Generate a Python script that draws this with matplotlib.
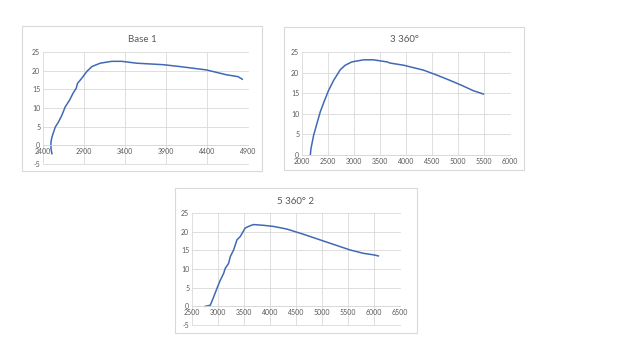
import numpy as np
from matplotlib import pyplot as plt
from matplotlib.patches import Rectangle

plt.rcParams['font.family'] = ['Lato', 'DejaVu Sans']
plt.rcParams['axes.unicode_minus'] = False

# Base 1
base_x = [2509, 2497, 2497, 2509, 2530, 2550, 2590, 2631, 2671, 2724, 2765, 2805, 2821, 2874,
          2935, 2996, 3097, 3239, 3360, 3543, 3867, 4069, 4393, 4637, 4778, 4831]
base_y = [-2.25, -0.9, 0.9, 2.2, 3.6, 4.9, 6.3, 8.1, 10.3, 12.1, 13.9, 15.3, 16.6, 18.0,
          19.8, 21.1, 22.0, 22.5, 22.5, 22.0, 21.6, 21.1, 20.2, 18.9, 18.4, 17.7]

# 3 360°
r3_x = [2160, 2173, 2224, 2288, 2352, 2435, 2512, 2608, 2672, 2736, 2832, 2960, 3184, 3376,
        3632, 3700, 3952, 4144, 4336, 4592, 4848, 5072, 5296, 5488]
r3_y = [0.0, 1.6, 4.8, 7.7, 10.5, 13.3, 15.7, 18.1, 19.4, 20.7, 21.8, 22.6, 23.1, 23.1,
        22.6, 22.3, 21.8, 21.2, 20.6, 19.4, 18.1, 16.9, 15.6, 14.8]

# 5 360° 2
r5_x = [2756, 2852, 2916, 2980, 3044, 3108, 3140, 3204, 3236, 3300, 3364, 3428, 3524, 3620,
        3684, 3876, 4068, 4324, 4644, 4964, 5284, 5540, 5796, 5988, 6084]
r5_y = [0.0, 0.3, 2.5, 4.8, 7.0, 8.8, 10.2, 11.5, 13.3, 15.1, 17.8, 18.7, 21.0, 21.6,
        21.9, 21.7, 21.4, 20.7, 19.3, 17.8, 16.3, 15.1, 14.2, 13.8, 13.5]

W, H = 640, 360
fig = plt.figure(figsize=(6.4, 3.6), dpi=100)


def chart(box, plot, title, x, y, xticks, yticks):
    # box and plot are pixel rectangles (x0, y0, x1, y1) from top-left
    bx0, by0, bx1, by1 = box
    fig.patches.append(Rectangle((bx0 / W, 1 - by1 / H), (bx1 - bx0) / W, (by1 - by0) / H,
                                 transform=fig.transFigure, fill=False,
                                 edgecolor="#d9d9d9", linewidth=0.8))
    fig.text((bx0 + bx1) / 2 / W, 1 - (by0 + 13) / H, title, ha="center", va="center",
             fontsize=7, color="#595959")
    px0, py0, px1, py1 = plot
    ax = fig.add_axes([px0 / W, 1 - py1 / H, (px1 - px0) / W, (py1 - py0) / H])
    ax.plot(x, y, "-", color="#4169b4", linewidth=1.1)
    ax.set_xlim(xticks[0], xticks[-1])
    ax.set_ylim(yticks[0], yticks[-1])
    ax.set_xticks(xticks)
    ax.set_yticks(yticks)
    ax.grid(color="#d9d9d9", linewidth=0.6)
    for gl in ax.get_xgridlines() + ax.get_ygridlines():
        gl.set_clip_on(False)
    ax.set_axisbelow(True)
    for s in ["top", "right", "left"]:
        ax.spines[s].set_visible(False)
    ax.spines["bottom"].set_position(("data", 0))
    ax.spines["bottom"].set_color("#d9d9d9")
    ax.spines["bottom"].set_linewidth(0.6)
    ax.tick_params(length=0, labelsize=5, labelcolor="#595959", pad=2)
    return ax


chart((22, 26, 262, 171), (43, 52, 248, 164), "Base 1", base_x, base_y,
      np.arange(2400, 5400, 500), np.arange(-5, 30, 5))
chart((284, 27, 524, 170), (302, 52, 510, 155), "3 360°", r3_x, r3_y,
      np.arange(2000, 6500, 500), np.arange(0, 30, 5))
chart((175, 188, 417, 333), (192, 213, 400, 325), "5 360° 2", r5_x, r5_y,
      np.arange(2500, 7000, 500), np.arange(-5, 30, 5))

plt.savefig("out.png", dpi=100)
